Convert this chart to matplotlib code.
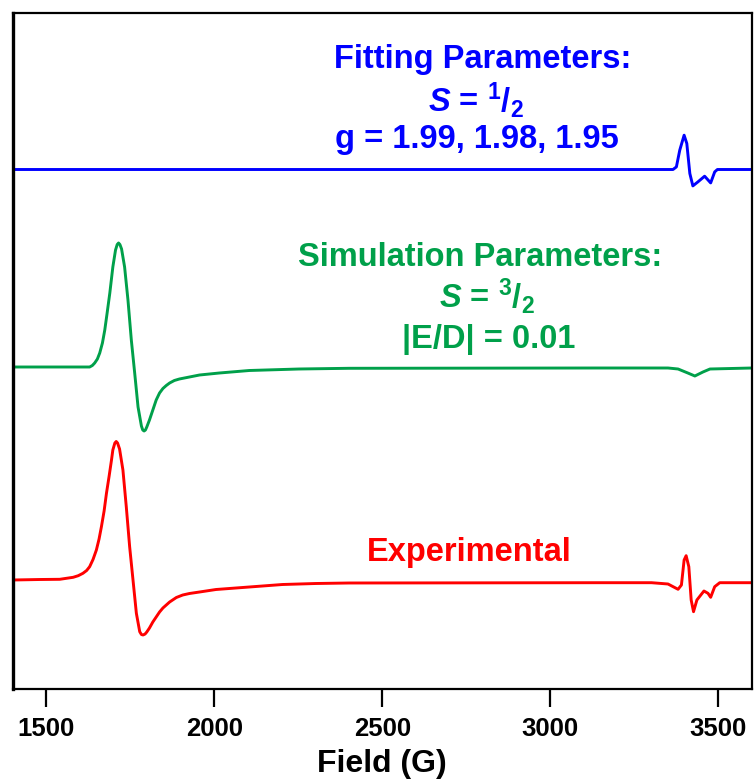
import matplotlib
matplotlib.use("Agg")
import matplotlib.pyplot as plt

plt.rcParams['font.family'] = ['Liberation Sans', 'DejaVu Sans']
plt.rcParams['mathtext.fontset'] = 'custom'
plt.rcParams['mathtext.rm'] = 'Liberation Sans:bold'
plt.rcParams['mathtext.it'] = 'Liberation Sans:italic:bold'
plt.rcParams['mathtext.bf'] = 'Liberation Sans:bold'

# ---- data (Field in G, signal in arbitrary units) ----
exp_field = [1400, 1481, 1540, 1580, 1595, 1609, 1620, 1629, 1639, 1649, 1657, 1664, 1672,
             1679, 1687, 1694, 1698, 1704, 1708, 1712,
             1718, 1728, 1738, 1748, 1758, 1768, 1778, 1783, 1788, 1794, 1799, 1807, 1817,
             1827, 1837, 1847, 1857, 1867, 1887, 1906, 1926, 1956, 2005, 2104, 2203, 2302,
             2401, 3143, 3301, 3350, 3380, 3390, 3398, 3404, 3412, 3419, 3426, 3436, 3457,
             3469, 3477, 3489, 3504, 3600]
exp_signal = [3, 3.5, 3.7, 5.7, 7.3, 9.7, 12.5, 16.3, 23.5, 33, 44, 56.3, 72,
              89.7, 107, 123, 133, 140, 141.5, 140,
              134, 113, 76.3, 36.3, 3, -30.3, -48.7, -51.5, -52, -51, -49, -45, -39,
              -34, -29, -25, -22, -19, -14.5, -12, -10.5, -9, -6.5, -4, -1.5, -0.5,
              0, 0.3, 0.3, -1, -6.3, -2, 23, 27.3, 16.3, -17, -28.7, -17, -8,
              -10.3, -14.3, -3.7, 0.3, 0.3]

sim_field = [1400, 1540, 1629, 1637, 1644, 1652, 1659, 1667, 1674, 1681, 1689, 1698, 1706,
             1711, 1715, 1719, 1724, 1733, 1743, 1753, 1763, 1773, 1783, 1787, 1791, 1795,
             1799, 1807, 1817, 1827, 1837, 1847, 1857, 1867, 1881, 1896, 1926, 1956, 2015,
             2104, 2252, 2401, 3142, 3350, 3380, 3409, 3430, 3454, 3475, 3600]
sim_signal = [1, 1, 1, 2.5, 5, 9, 15, 25, 38, 55, 75, 101, 118,
              123.5, 125, 123.5, 119, 101, 68, 28, -5, -39, -58, -62, -63, -62,
              -59, -52, -42, -32, -25, -20.5, -17.5, -15, -12.5, -11, -9, -7, -5,
              -2.5, -1, -0.3, 0, 0, -1, -5, -8, -4, -1, 0]

fit_field = [1400, 3365, 3375, 3385, 3398, 3406, 3415, 3424, 3439, 3459, 3477, 3489,
             3497, 3600]
fit_signal = [0, 0, 2.6, 19.3, 34.3, 26, -4, -16.4, -12.4, -6.7, -13.4, -2.4,
              0, 0]

offsets = {'exp': 106, 'sim': 321, 'fit': 519.5}
xticks = [1500, 2000, 2500, 3000, 3500]

c_red = '#ff0000'
c_green = '#00a04a'
c_blue = '#0000ff'

fig = plt.figure(figsize=(7.55, 7.83), dpi=100)
ax = fig.add_axes([12.7 / 755, 1 - 689 / 783, (752 - 12.7) / 755, (689 - 13) / 783])

ax.plot(exp_field, [v + offsets['exp'] for v in exp_signal], color=c_red, lw=2.1)
ax.plot(sim_field, [v + offsets['sim'] for v in sim_signal], color=c_green, lw=2.1)
ax.plot(fit_field, [v + offsets['fit'] for v in fit_signal], color=c_blue, lw=2.1)

ax.set_xlim(1400, 3600)
ax.set_ylim(0, 676)
ax.set_yticks([])
ax.set_xticks(xticks)
ax.set_xticklabels([str(t) for t in xticks], fontsize=18.5, fontweight='bold')
ax.tick_params(axis='x', direction='out', length=13, width=1.6, pad=7)
for s in ['top', 'right', 'bottom']:
    ax.spines[s].set_linewidth(1.6)
ax.spines['left'].set_linewidth(2.4)
fig.text(382 / 755, 1 - 764 / 783, 'Field (G)', ha='center', va='center',
         fontsize=23, fontweight='bold')

tkw = dict(ha='center', va='baseline', fontsize=23.5, fontweight='bold')
ax.text(2800, 621, 'Fitting Parameters:', color=c_blue, **tkw)
ax.text(2780, 577, r'$\mathit{S}$ = $^{1}$/$_{2}$', color=c_blue, **tkw)
ax.text(2780, 541, 'g = 1.99, 1.98, 1.95', color=c_blue, **tkw)

ax.text(2790, 423, 'Simulation Parameters:', color=c_green, **tkw)
ax.text(2810, 381, r'$\mathit{S}$ = $^{3}$/$_{2}$', color=c_green, **tkw)
ax.text(2815, 341, '|E/D| = 0.01', color=c_green, **tkw)

ax.text(2760, 128, 'Experimental', color=c_red, **tkw)

fig.savefig('out.png', dpi=100)
